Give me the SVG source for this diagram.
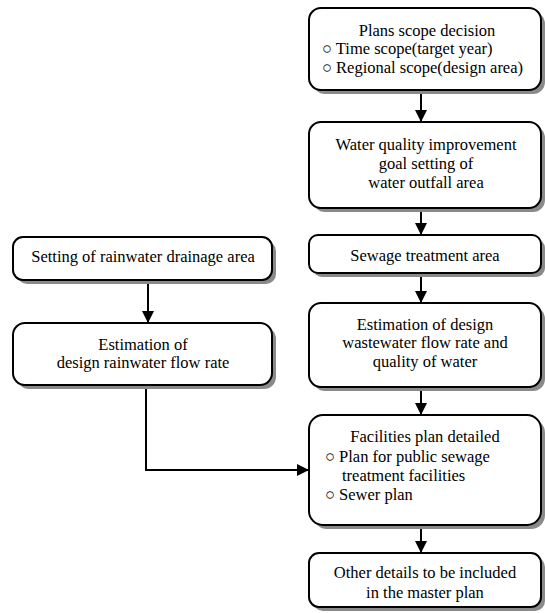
<svg xmlns="http://www.w3.org/2000/svg" width="545" height="613" viewBox="0 0 545 613">
<style>
.box{fill:#fff;stroke:#000;stroke-width:2}
.sh{fill:#8a8a8a}
text{font-family:'Liberation Serif','DejaVu Serif',serif;font-size:16.5px;fill:#000}
.c{text-anchor:middle}
.ln{fill:none;stroke:#000;stroke-width:2}
</style>
<defs>
<marker id="ah" markerUnits="userSpaceOnUse" markerWidth="12" markerHeight="14" refX="12" refY="6" orient="auto">
<path d="M0,0 L12,6 L0,12 Z" fill="#000"/>
</marker>
</defs>
<g id="n1">
<rect class="sh" x="313" y="12" width="232" height="82" rx="12"/>
<rect class="box" x="309" y="8" width="232" height="82" rx="12"/>
<text class="c" x="427" y="36">Plans scope decision</text>
<text x="322" y="54">○ Time scope(target year)</text>
<text x="322" y="73">○ Regional scope(design area)</text>
</g>
<g id="n2">
<rect class="sh" x="313" y="126" width="232" height="86" rx="12"/>
<rect class="box" x="309" y="122" width="232" height="86" rx="12"/>
<text class="c" x="426" y="150">Water quality improvement</text>
<text class="c" x="426" y="169">goal setting of</text>
<text class="c" x="426" y="188">water outfall area</text>
</g>
<g id="n3">
<rect class="sh" x="313" y="239" width="232" height="38" rx="9"/>
<rect class="box" x="309" y="235" width="232" height="38" rx="9"/>
<text class="c" x="425" y="261">Sewage treatment area</text>
</g>
<g id="n4">
<rect class="sh" x="313" y="307" width="232" height="84" rx="12"/>
<rect class="box" x="309" y="303" width="232" height="84" rx="12"/>
<text class="c" x="425" y="330">Estimation of design</text>
<text class="c" x="425" y="348">wastewater flow rate and</text>
<text class="c" x="425" y="367">quality of water</text>
</g>
<g id="n5">
<rect class="sh" x="313" y="419" width="232" height="110" rx="14"/>
<rect class="box" x="309" y="415" width="232" height="110" rx="14"/>
<text class="c" x="425" y="442">Facilities plan detailed</text>
<text x="325" y="462">○ Plan for public sewage</text>
<text x="342" y="481">treatment facilities</text>
<text x="325" y="500">○ Sewer plan</text>
</g>
<g id="n6">
<rect class="sh" x="313" y="557" width="232" height="54" rx="10"/>
<rect class="box" x="309" y="553" width="232" height="54" rx="10"/>
<text class="c" x="425" y="578">Other details to be included</text>
<text class="c" x="425" y="598">in the master plan</text>
</g>
<g id="nA">
<rect class="sh" x="17" y="241" width="259" height="43" rx="10"/>
<rect class="box" x="13" y="237" width="259" height="43" rx="10"/>
<text class="c" x="143" y="262">Setting of rainwater drainage area</text>
</g>
<g id="nB">
<rect class="sh" x="17" y="327" width="259" height="62" rx="12"/>
<rect class="box" x="13" y="323" width="259" height="62" rx="12"/>
<text class="c" x="143" y="350">Estimation of</text>
<text class="c" x="143" y="368">design rainwater flow rate</text>
</g>
<g id="connectors">
<line class="ln" x1="421" y1="94" x2="421" y2="122" marker-end="url(#ah)"/>
<line class="ln" x1="421" y1="212" x2="421" y2="235" marker-end="url(#ah)"/>
<line class="ln" x1="421" y1="277" x2="421" y2="303" marker-end="url(#ah)"/>
<line class="ln" x1="421" y1="391" x2="421" y2="415" marker-end="url(#ah)"/>
<line class="ln" x1="421" y1="529" x2="421" y2="553" marker-end="url(#ah)"/>
<line class="ln" x1="148" y1="284" x2="148" y2="323" marker-end="url(#ah)"/>
<polyline class="ln" points="146,389 146,470 309,470" marker-end="url(#ah)"/>
</g>
</svg>
